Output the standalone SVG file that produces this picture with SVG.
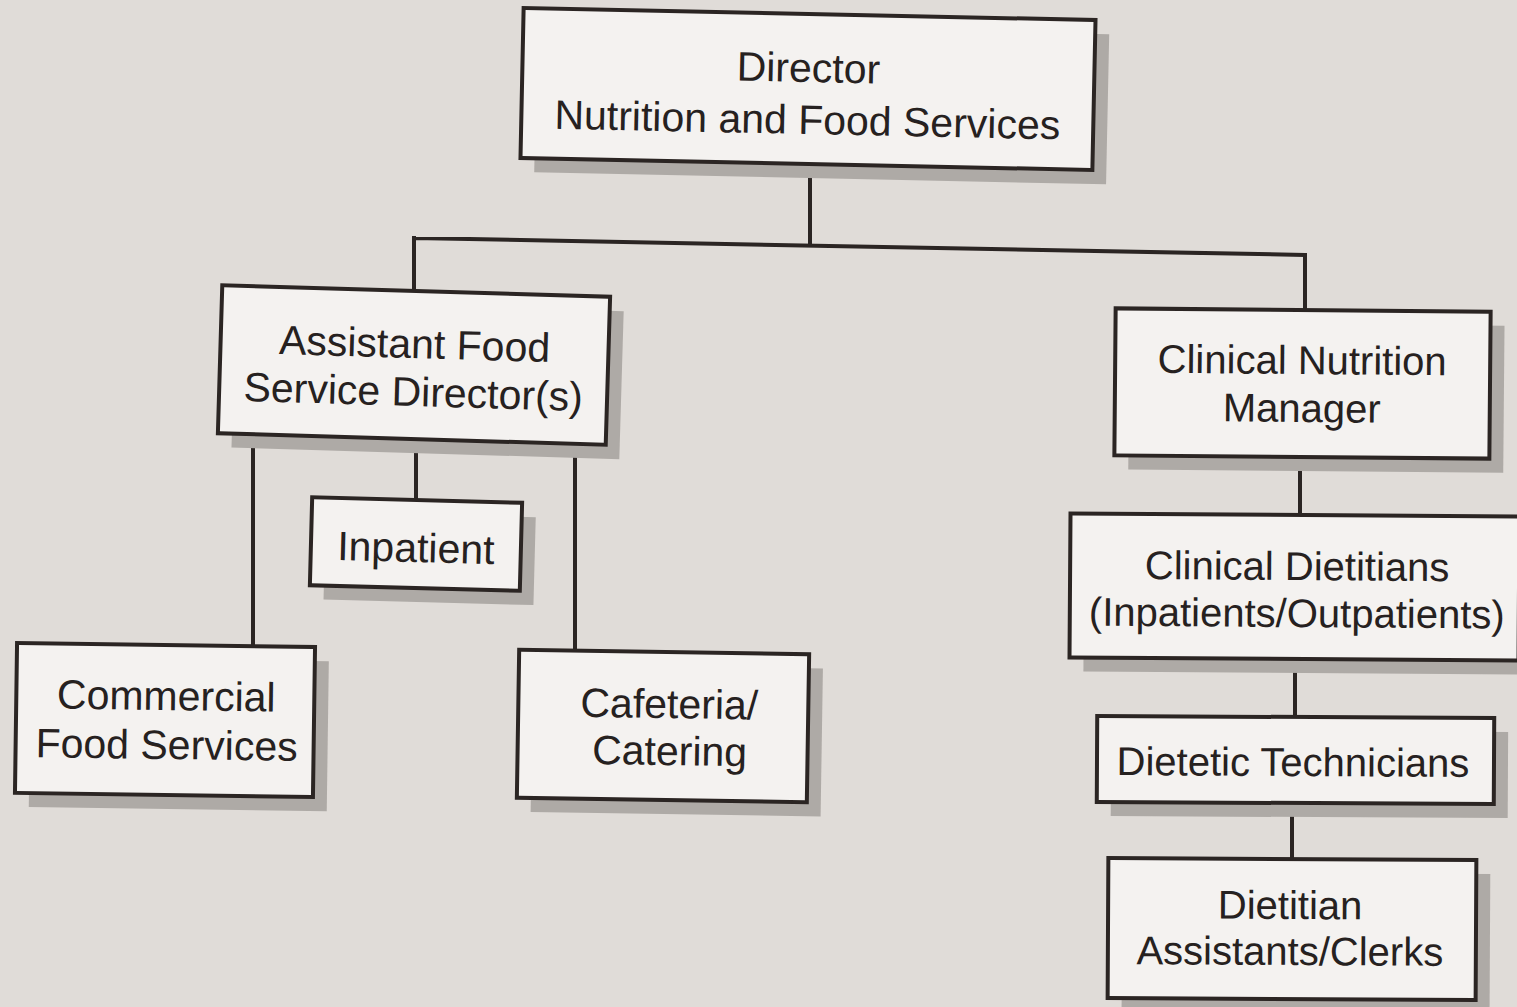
<svg xmlns="http://www.w3.org/2000/svg" width="1517" height="1007" viewBox="0 0 1517 1007">
<style>
.bg{fill:#e0dcd8}
.sh{fill:#aeaaa6}
.bx{fill:#f4f2f0;stroke:#2b2523;stroke-width:4}
.t{font-family:"Liberation Sans",Arial,sans-serif;font-size:41px;fill:#262120;text-anchor:middle}
.r{font-size:40px}
.c{fill:none;stroke:#2b2523;stroke-width:4}
</style>
<rect class="bg" x="0" y="0" width="1517" height="1007"/>
<g id="connectors">
<path class="c" d="M810 165 V246 M414 238 L1305 255 M414 236 V290 M1305 253 V311"/>
<path class="c" d="M253 437 V645 M416 441 V500 M575 444 V652"/>
<path class="c" d="M1300 457 V515 M1295 659 V717 M1292 803 V859"/>
</g>
<g id="director" transform="rotate(1.2 808 89)">
<rect class="sh" x="536" y="28" width="572" height="150"/>
<rect class="bx" x="522" y="14" width="572" height="150"/>
<text class="t" x="808" y="82">Director</text>
<text class="t" x="808" y="134">Nutrition and Food Services</text>
</g>
<g id="assistant" transform="rotate(1.7 414 365)">
<rect class="sh" x="234" y="305" width="388" height="148"/>
<rect class="bx" x="220" y="291" width="388" height="148"/>
<text class="t" x="414" y="358">Assistant Food</text>
<text class="t" x="414" y="406">Service Director(s)</text>
</g>
<g id="inpatient" transform="rotate(1.5 416 544)">
<rect class="sh" x="325" y="514" width="210" height="88"/>
<rect class="bx" x="311" y="500" width="210" height="88"/>
<text class="t" x="416" y="562">Inpatient</text>
</g>
<g id="commercial" transform="rotate(0.8 166 720)">
<rect class="sh" x="30" y="659" width="298" height="150"/>
<rect class="bx" x="16" y="645" width="298" height="150"/>
<text class="t" x="166" y="710">Commercial</text>
<text class="t" x="167" y="759">Food Services</text>
</g>
<g id="cafeteria" transform="rotate(0.9 663 726)">
<rect class="sh" x="532" y="666" width="290" height="148"/>
<rect class="bx" x="518" y="652" width="290" height="148"/>
<text class="t" x="669" y="718">Cafeteria/</text>
<text class="t" x="670" y="765">Catering</text>
</g>
<g id="clinical-manager" transform="rotate(0.5 1302 384)">
<rect class="sh" x="1129" y="324" width="375" height="147"/>
<rect class="bx" x="1115" y="310" width="375" height="147"/>
<text class="t r" x="1302" y="374">Clinical Nutrition</text>
<text class="t r" x="1302" y="422">Manager</text>
</g>
<g id="clinical-dietitians" transform="rotate(0.4 1294 587)">
<rect class="sh" x="1084" y="529" width="449" height="144"/>
<rect class="bx" x="1070" y="515" width="449" height="144"/>
<text class="t r" x="1297" y="580">Clinical Dietitians</text>
<text class="t r" x="1297" y="627">(Inpatients/Outpatients)</text>
</g>
<g id="dietetic-technicians" transform="rotate(0.3 1295 760)">
<rect class="sh" x="1111" y="731" width="397" height="86"/>
<rect class="bx" x="1097" y="717" width="397" height="86"/>
<text class="t r" x="1293" y="776">Dietetic Technicians</text>
</g>
<g id="dietitian-assistants" transform="rotate(0.3 1292 929)">
<rect class="sh" x="1122" y="873" width="368" height="140"/>
<rect class="bx" x="1108" y="859" width="368" height="140"/>
<text class="t r" x="1290" y="919">Dietitian</text>
<text class="t r" x="1290" y="965">Assistants/Clerks</text>
</g>
</svg>
